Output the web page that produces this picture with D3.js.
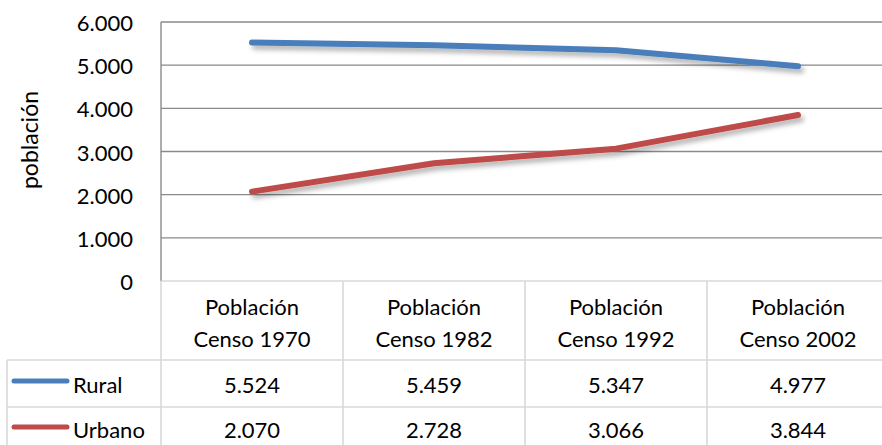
<!DOCTYPE html>
<html>
<head>
<meta charset="utf-8">
<script src="https://cdn.jsdelivr.net/npm/d3@7/dist/d3.min.js"></script>
<style>
  body { margin: 0; background: #fff; }
  text { font-family: Lato, "Open Sans", sans-serif; fill: #000; }
</style>
</head>
<body>
<div id="chart"></div>
<script>
// data
const categories = ["Población Censo 1970", "Población Censo 1982", "Población Censo 1992", "Población Censo 2002"];
const catLines = [["Población", "Censo 1970"], ["Población", "Censo 1982"], ["Población", "Censo 1992"], ["Población", "Censo 2002"]];
const seriesNames = ["Rural", "Urbano"];
const rural = [5524, 5459, 5347, 4977];
const urbano = [2070, 2728, 3066, 3844];
const yTicks = [0, 1000, 2000, 3000, 4000, 5000, 6000];
const colors = ["#4a7ebb", "#be4b48"];

const W = 882, H = 445;
const fmt = v => d3.format(",")(v).replace(/,/g, ".");

const svg = d3.select("#chart").append("svg")
  .attr("width", W).attr("height", H);

const defs = svg.append("defs");
const f = defs.append("filter").attr("id", "shadow")
  .attr("x", "-10%").attr("y", "-50%").attr("width", "120%").attr("height", "200%");
f.append("feDropShadow").attr("dx", 3).attr("dy", 4).attr("stdDeviation", 2.5)
  .attr("flood-color", "#000").attr("flood-opacity", 0.3);

const x = d3.scaleBand().domain(categories).range([161, 889]);
const y = d3.scaleLinear().domain([0, 6000]).range([281, 22]);

// gridlines
svg.append("g").selectAll("line").data(yTicks.filter(d => d > 0)).join("line")
  .attr("x1", 161).attr("x2", W)
  .attr("y1", d => y(d)).attr("y2", d => y(d))
  .attr("stroke", "#8a8a8a").attr("stroke-width", 1.4);

// y axis line
svg.append("line").attr("x1", 161).attr("x2", 161).attr("y1", y(6000)).attr("y2", y(0))
  .attr("stroke", "#8a8a8a").attr("stroke-width", 1.4);

// y tick labels
svg.append("g").selectAll("text").data(yTicks).join("text")
  .attr("x", 133).attr("y", d => y(d) + 9)
  .attr("text-anchor", "end").attr("font-size", 22)
  .text(d => d === 0 ? "0" : fmt(d));

// y title
svg.append("text")
  .attr("transform", "translate(38,140) rotate(-90)")
  .attr("text-anchor", "middle").attr("font-size", 23)
  .text("población");

// data table lines
const tableColor = "#d9d9d9";
const tbl = svg.append("g").attr("stroke", tableColor).attr("stroke-width", 1.6);
tbl.append("line").attr("x1", 161).attr("x2", W).attr("y1", y(0)).attr("y2", y(0));
[360, 407].forEach(yy => tbl.append("line").attr("x1", 7).attr("x2", W).attr("y1", yy).attr("y2", yy));
tbl.append("line").attr("x1", 7).attr("x2", 7).attr("y1", 360).attr("y2", H);
tbl.selectAll(".v").data(categories).join("line").attr("class", "v")
  .attr("x1", d => x(d)).attr("x2", d => x(d))
  .attr("y1", y(0)).attr("y2", H);

// header labels
const hdr = svg.append("g").selectAll("g").data(categories).join("g");
hdr.each(function(d, i) {
  const g = d3.select(this);
  catLines[i].forEach((t, k) => {
    g.append("text").attr("x", x(d) + x.bandwidth() / 2).attr("y", 315 + k * 32)
      .attr("text-anchor", "middle").attr("font-size", 22).text(t);
  });
});

// series rows
const series = [rural, urbano];
const rowBase = [393, 438];
const rowMid = [381, 427];
series.forEach((vals, s) => {
  svg.append("line").attr("x1", 14).attr("x2", 67)
    .attr("y1", rowMid[s]).attr("y2", rowMid[s])
    .attr("stroke", colors[s]).attr("stroke-width", 5).attr("stroke-linecap", "round");
  svg.append("text").attr("x", 73).attr("y", rowBase[s]).attr("font-size", 22).text(seriesNames[s]);
  svg.append("g").selectAll("text").data(vals).join("text")
    .attr("x", (d, i) => x(categories[i]) + x.bandwidth() / 2)
    .attr("y", rowBase[s]).attr("text-anchor", "middle").attr("font-size", 22)
    .text(d => fmt(d));
});

// lines
const line = d3.line()
  .x((d, i) => x(categories[i]) + x.bandwidth() / 2)
  .y(d => y(d));
series.forEach((vals, s) => {
  svg.append("path").datum(vals)
    .attr("fill", "none").attr("stroke", colors[s]).attr("stroke-width", 6)
    .attr("stroke-linecap", "round").attr("stroke-linejoin", "round")
    .attr("filter", "url(#shadow)")
    .attr("d", line);
});
</script>
</body>
</html>
